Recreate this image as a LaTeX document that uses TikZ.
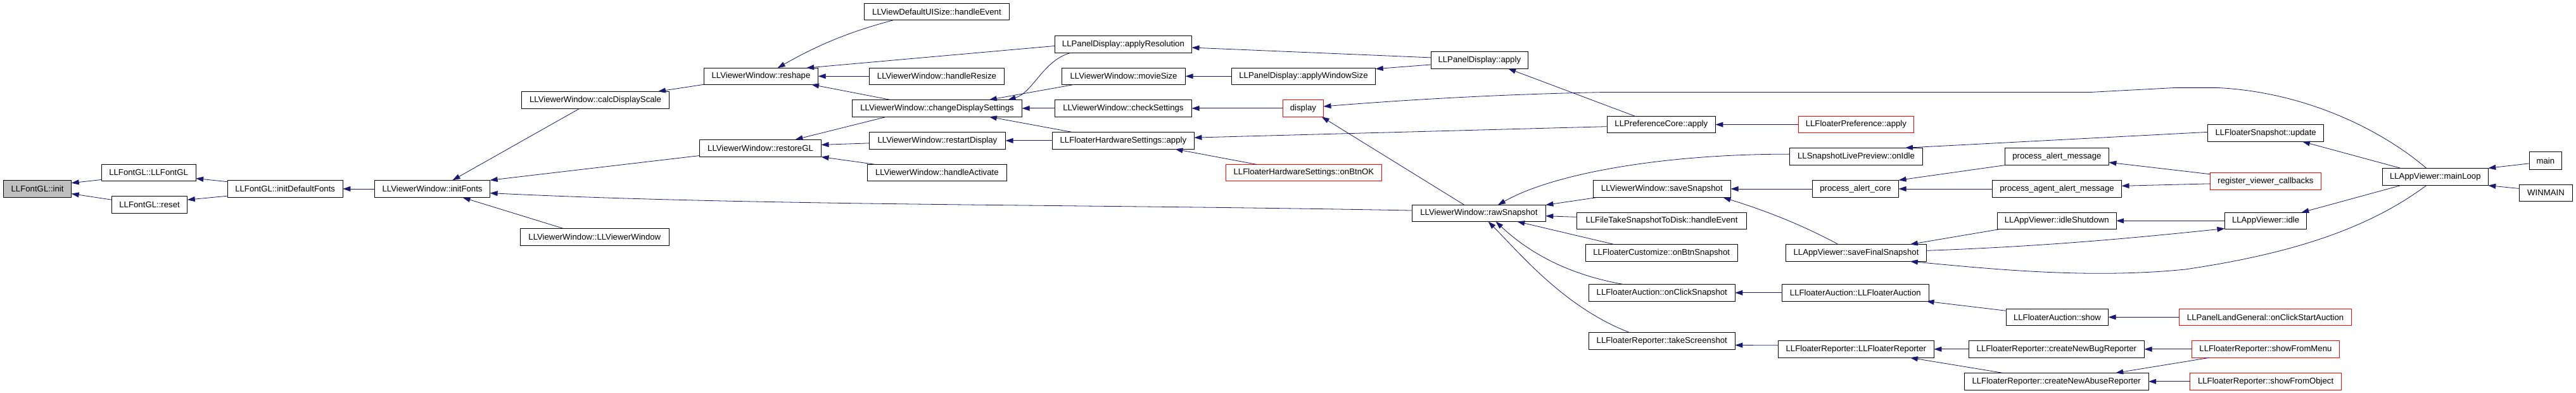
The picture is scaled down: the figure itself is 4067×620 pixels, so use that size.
\documentclass[tikz,border=0pt]{standalone}
\usepackage{fontspec}
\setmainfont{Liberation Sans}
\usetikzlibrary{calc,arrows.meta}
\definecolor{edgecol}{RGB}{25,25,112}
\definecolor{initfill}{RGB}{191,191,191}
\tikzset{
 fnbox/.style={draw=black, line width=1pt, rectangle, inner sep=0pt, outer sep=0pt, font=\fontsize{13.2}{15}\selectfont, text=black},
 cedge/.style={draw=edgecol, line width=0.8pt, -{Triangle[length=12pt,width=8pt]}},
}
\newcommand\bx[7][]{\node[fnbox,#1,minimum width={#5pt-#3pt},minimum height={#6pt-#4pt}] (#2) at ({(#3+#5)/2},{(#4+#6)/2}) {#7};}
\begin{document}
\begin{tikzpicture}[x=1pt,y=-1pt]
\fill[white] (0,0) rectangle (4067,620);
\useasboundingbox (0,0) rectangle (4067,620);
\bx[fill=initfill]{init}{5.5}{284.7}{112.7}{311.6}{LLFontGL::init}
\bx{fglc}{160.1}{259.4}{309.2}{285.1}{LLFontGL::LLFontGL}
\bx{freset}{176.4}{309.2}{295.8}{336.5}{LLFontGL::reset}
\bx{idf}{359.0}{284.3}{541.3}{311.6}{LLFontGL::initDefaultFonts}
\bx{initfonts}{591.5}{284.3}{773.6}{311.6}{LLViewerWindow::initFonts}
\bx{calcds}{823.4}{144.3}{1056.7}{171.2}{LLViewerWindow::calcDisplayScale}
\bx{vwctor}{821.0}{360.2}{1056.7}{387.5}{LLViewerWindow::LLViewerWindow}
\bx{reshape}{1111.3}{107.2}{1291.7}{133.3}{LLViewerWindow::reshape}
\bx{restoregl}{1104.6}{220.2}{1296.5}{247.5}{LLViewerWindow::restoreGL}
\bx{uisize}{1364.5}{5.5}{1593.4}{32.0}{LLViewDefaultUISize::handleEvent}
\bx{hresize}{1372.4}{107.2}{1585.5}{133.3}{LLViewerWindow::handleResize}
\bx{cds}{1345.5}{157.4}{1613.6}{184.3}{LLViewerWindow::changeDisplaySettings}
\bx{restart}{1372.4}{208.4}{1587.5}{235.3}{LLViewerWindow::restartDisplay}
\bx{hactivate}{1369.2}{259.4}{1589.5}{285.1}{LLViewerWindow::handleActivate}
\bx{appres}{1665.4}{56.5}{1881.5}{83.4}{LLPanelDisplay::applyResolution}
\bx{movie}{1676.5}{107.2}{1871.6}{133.3}{LLViewerWindow::movieSize}
\bx{check}{1665.4}{157.4}{1881.5}{184.3}{LLViewerWindow::checkSettings}
\bx{hwapply}{1661.4}{208.4}{1885.4}{235.3}{LLFloaterHardwareSettings::apply}
\bx{winsize}{1944.3}{107.2}{2171.7}{133.3}{LLPanelDisplay::applyWindowSize}
\bx{pdapply}{2259.1}{81.5}{2412.5}{108.3}{LLPanelDisplay::apply}
\bx[draw=red]{display}{2025.4}{157.4}{2089.4}{184.3}{display}
\bx[draw=red]{onbtnok}{1935.2}{259.4}{2181.6}{285.1}{LLFloaterHardwareSettings::onBtnOK}
\bx{raw}{2229.4}{323.4}{2440.3}{349.5}{LLViewerWindow::rawSnapshot}
\bx{prefcore}{2537.2}{183.5}{2708.4}{209.6}{LLPreferenceCore::apply}
\bx[draw=red]{fprefapply}{2839.3}{183.5}{3021.4}{209.6}{LLFloaterPreference::apply}
\bx{onidle}{2825.5}{233.3}{3035.6}{260.6}{LLSnapshotLivePreview::onIdle}
\bx{savesnap}{2515.1}{284.3}{2732.5}{311.6}{LLViewerWindow::saveSnapshot}
\bx{alertcore}{2861.4}{284.3}{2997.5}{311.6}{process\_alert\_core}
\bx{filetake}{2489.4}{335.3}{2757.5}{361.4}{LLFileTakeSnapshotToDisk::handleEvent}
\bx{fcustom}{2503.2}{385.5}{2743.2}{412.4}{LLFloaterCustomize::onBtnSnapshot}
\bx{savefinal}{2819.5}{385.5}{3041.5}{412.4}{LLAppViewer::saveFinalSnapshot}
\bx{aucsnap}{2508.3}{448.4}{2739.3}{475.3}{LLFloaterAuction::onClickSnapshot}
\bx{aucctor}{2813.2}{448.4}{3045.5}{475.3}{LLFloaterAuction::LLFloaterAuction}
\bx{takescr}{2508.3}{524.3}{2739.3}{551.2}{LLFloaterReporter::takeScreenshot}
\bx{repctor}{2807.3}{537.4}{3053.4}{564.3}{LLFloaterReporter::LLFloaterReporter}
\bx{fsupdate}{3485.6}{196.5}{3668.7}{223.4}{LLFloaterSnapshot::update}
\bx{alertmsg}{3165.3}{233.3}{3329.4}{260.6}{process\_alert\_message}
\bx{agentalert}{3145.5}{284.3}{3349.5}{311.6}{process\_agent\_alert\_message}
\bx[draw=red]{register}{3489.5}{272.4}{3664.3}{299.3}{register\_viewer\_callbacks}
\bx{idleshut}{3153.4}{335.3}{3341.2}{361.4}{LLAppViewer::idleShutdown}
\bx{idle}{3512.4}{335.3}{3641.7}{361.4}{LLAppViewer::idle}
\bx{aucshow}{3167.3}{487.5}{3328.6}{513.2}{LLFloaterAuction::show}
\bx[draw=red]{startauc}{3440.5}{487.5}{3712.7}{513.2}{LLPanelLandGeneral::onClickStartAuction}
\bx{bugrep}{3108.3}{537.4}{3385.5}{564.3}{LLFloaterReporter::createNewBugReporter}
\bx{abuserep}{3101.2}{588.4}{3392.2}{615.2}{LLFloaterReporter::createNewAbuseReporter}
\bx[draw=red]{showmenu}{3460.2}{537.4}{3693.7}{564.3}{LLFloaterReporter::showFromMenu}
\bx[draw=red]{showobj}{3457.5}{588.4}{3696.7}{615.2}{LLFloaterReporter::showFromObject}
\bx{mainloop}{3761.3}{265.3}{3928.3}{292.6}{LLAppViewer::mainLoop}
\bx{mainfn}{3993.3}{240.0}{4044.3}{267.3}{main}
\bx{winmain}{3977.3}{291.4}{4061.7}{317.5}{WINMAIN}
% edges
\draw[cedge] ($(fglc.south west)+(0,-1.6)$) -- ($(init.north east)+(0,4)$);
\draw[cedge] ($(freset.north west)+(0,6)$) -- ($(init.south east)+(0,-6)$);
\draw[cedge] ($(idf.north west)+(0,2.4)$) -- ($(fglc.south east)+(0,-3.6)$);
\draw[cedge] ($(idf.south west)+(0,-2.4)$) -- ($(freset.north east)+(0,6)$);
\draw[cedge] (initfonts.west) -- (idf.east);
\draw[cedge] ($(calcds.south west)+(91.7,0)$) -- ($(initfonts.north west)+(123,0)$);
\draw[cedge] ($(restoregl.south west)+(0,-2)$) -- (initfonts.north east);
\draw[cedge] ($(raw.west)+(0,-4.4)$) .. controls (1700,322) and (1200,325) .. ($(initfonts.south east)+(0,-7)$);
\draw[cedge] ($(vwctor.north west)+(67.6,0)$) -- ($(initfonts.south west)+(139,0)$);
\draw[cedge] (reshape.south west) -- ($(calcds.north east)+(-17.8,0)$);
\draw[cedge] ($(uisize.south west)+(45,0)$) .. controls (1350,48) and (1300,66) .. ($(reshape.north west)+(116.4,0)$);
\draw[cedge] ($(appres.west)+(0,2.5)$) -- ($(reshape.north east)+(-18.6,0)$);
\draw[cedge] (hresize.west) -- (reshape.east);
\draw[cedge] ($(cds.north west)+(60,0)$) -- ($(reshape.south east)+(-10.7,0)$);
\draw[cedge] ($(cds.south west)+(54,0)$) -- ($(restoregl.north east)+(-41,0)$);
\draw[cedge] ($(restart.west)+(0,4)$) -- ($(restoregl.east)+(0,-5.4)$);
\draw[cedge] ($(hactivate.north west)+(12.7,0)$) -- (restoregl.south east);
\draw[cedge] ($(appres.south west)+(25,0)$) .. controls (1646.8,94.9) and (1631,146.3) .. ($(cds.north east)+(-22,0)$);
\draw[cedge] ($(movie.south west)+(19.7,0)$) -- ($(cds.north east)+(-51.8,0)$);
\draw[cedge] (check.west) -- (cds.east);
\draw[cedge] ($(hwapply.north west)+(31,0)$) -- ($(cds.south east)+(-51.8,0)$);
\draw[cedge] (hwapply.west) -- (restart.east);
\draw[cedge] ($(pdapply.west)+(0,-4)$) -- ($(appres.east)+(0,5.1)$);
\draw[cedge] ($(pdapply.west)+(0,7.1)$) -- ($(winsize.north east)+(0,1.5)$);
\draw[cedge] (winsize.west) -- (movie.east);
\draw[cedge] (display.west) -- (check.east);
\draw[cedge] ($(prefcore.north west)+(44.7,0)$) -- ($(pdapply.south east)+(-31.3,0)$);
\draw[cedge] ($(prefcore.west)+(0,3.1)$) -- ($(hwapply.east)+(0,-4.7)$);
\draw[cedge] ($(onbtnok.north west)+(48.7,0)$) -- ($(hwapply.south east)+(-30,0)$);
\draw[cedge] ($(mainloop.north west)+(69.4,0)$) .. controls (3760,205) and (3640,145) .. (3500,138.4) -- (3435,138.4) -- (3300,145.5) -- (2534,145.5) .. controls (2400,148) and (2250,155) .. ($(display.east)+(0,-2.9)$);
\draw[cedge] ($(raw.north west)+(82.6,0)$) -- ($(display.south east)+(-2.7,0)$);
\draw[cedge] (fprefapply.west) -- (prefcore.east);
\draw[cedge] ($(onidle.west)+(0,-3.8)$) .. controls (2620,243) and (2450,275) .. ($(raw.north)+(30,0)$);
\draw[cedge] ($(savesnap.south west)+(5.5,0)$) -- (raw.north east);
\draw[cedge] ($(filetake.west)+(0,-6)$) -- ($(raw.east)+(0,4.3)$);
\draw[cedge] ($(fcustom.north west)+(45,0)$) -- ($(raw.south east)+(-45,0)$);
\draw[cedge] ($(aucsnap.north west)+(53.8,0)$) .. controls (2470,432) and (2410,395) .. ($(raw.south)+(26.7,0)$);
\draw[cedge] ($(takescr.north west)+(63.7,0)$) .. controls (2470,485) and (2400,400) .. ($(raw.south)+(14.7,0)$);
\draw[cedge] ($(fsupdate.west)+(0,-1.6)$) -- ($(onidle.north east)+(-27.7,0)$);
\draw[cedge] (alertcore.west) -- (savesnap.east);
\draw[cedge] ($(savefinal.north west)+(82.7,0)$) .. controls (2840,352) and (2780,330) .. ($(savesnap.south east)+(-12,0)$);
\draw[cedge] (alertmsg.south west) -- (alertcore.north east);
\draw[cedge] (agentalert.west) -- (alertcore.east);
\draw[cedge] ($(register.north west)+(0,2.4)$) -- ($(alertmsg.south east)+(0,-4.4)$);
\draw[cedge] ($(register.west)+(0,4)$) -- ($(agentalert.east)+(0,-4.6)$);
\draw[cedge] ($(idleshut.south west)+(4.8,0)$) -- ($(savefinal.north east)+(-25.7,0)$);
\draw[cedge] ($(savefinal.east)+(0,-3.6)$) .. controls (3250,388) and (3400,372) .. ($(idle.south west)+(0,-0.8)$);
\draw[cedge] (idle.west) -- (idleshut.east);
\draw[cedge] ($(mainloop.south west)+(28.7,0)$) -- ($(idle.north east)+(-8.4,0)$);
\draw[cedge] ($(mainloop.north west)+(28.7,0)$) -- ($(fsupdate.south east)+(-33.7,0)$);
\draw[cedge] ($(mainloop.south west)+(69.4,0)$) .. controls (3740,360) and (3620,400) .. (3450,425) .. controls (3300,440) and (3150,425) .. ($(savefinal.south east)+(-25.7,0)$);
\draw[cedge] ($(mainfn.west)+(0,4.2)$) -- (mainloop.north east);
\draw[cedge] ($(winmain.west)+(0,-7)$) -- (mainloop.south east);
\draw[cedge] (aucctor.west) -- (aucsnap.east);
\draw[cedge] ($(aucshow.north west)+(0,2.8)$) -- ($(aucctor.south east)+(-4,0)$);
\draw[cedge] (startauc.west) -- (aucshow.east);
\draw[cedge] ($(repctor.west)+(0,-6)$) -- ($(takescr.east)+(0,6.75)$);
\draw[cedge] (bugrep.west) -- (repctor.east);
\draw[cedge] ($(abuserep.north west)+(60.9,0)$) -- ($(repctor.south east)+(-37.6,0)$);
\draw[cedge] (showmenu.west) -- (bugrep.east);
\draw[cedge] ($(showmenu.south west)+(28,0)$) -- ($(abuserep.north east)+(-52,0)$);
\draw[cedge] (showobj.west) -- (abuserep.east);
\end{tikzpicture}
\end{document}
